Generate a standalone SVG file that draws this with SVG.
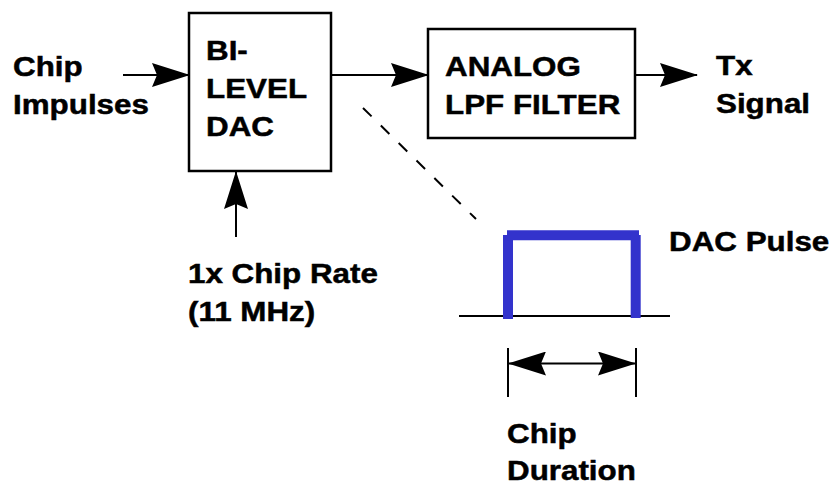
<svg xmlns="http://www.w3.org/2000/svg" width="835" height="485" viewBox="0 0 835 485">
  <style>
    .lbl { font-family: "Liberation Sans", Arial, sans-serif; font-weight: bold; font-size: 28px; fill: #000; stroke: #000; stroke-width: 0.5; }
    .box { fill: #fff; stroke: #000; stroke-width: 2.5; }
    .conn { stroke: #000; stroke-width: 2; fill: none; }
    .pulse { stroke: #3333cc; stroke-width: 10; fill: none; stroke-linecap: butt; }
  </style>
  <defs>
    <marker id="arrow" markerUnits="userSpaceOnUse" viewBox="0 0 38 24" refX="37" refY="12" markerWidth="38" markerHeight="24" orient="auto-start-reverse">
      <path d="M0,0 L38,12 L0,24 L5,12 z" fill="#000"/>
    </marker>
  </defs>

  <rect width="835" height="485" fill="#fff"/>

  <g id="label-chip-impulses">
    <text class="lbl" transform="translate(13,75.5) scale(1.12,1)">Chip</text>
    <text class="lbl" transform="translate(13,113.5) scale(1.12,1)">Impulses</text>
  </g>

  <g id="node-dac">
    <rect class="box" x="189" y="13" width="142" height="158"/>
    <text class="lbl" transform="translate(206,60) scale(1.12,1)">BI-</text>
    <text class="lbl" transform="translate(206,98) scale(1.12,1)">LEVEL</text>
    <text class="lbl" transform="translate(206,136) scale(1.12,1)">DAC</text>
  </g>

  <g id="node-filter">
    <rect class="box" x="428" y="29" width="207" height="109"/>
    <text class="lbl" transform="translate(445,75.5) scale(1.12,1)">ANALOG</text>
    <text class="lbl" transform="translate(445,114) scale(1.12,1)">LPF FILTER</text>
  </g>

  <g id="label-tx">
    <text class="lbl" transform="translate(716,75) scale(1.12,1)">Tx</text>
    <text class="lbl" transform="translate(716,113) scale(1.12,1)">Signal</text>
  </g>

  <g id="label-rate">
    <text class="lbl" transform="translate(188,283) scale(1.12,1)">1x Chip Rate</text>
    <text class="lbl" transform="translate(188,321) scale(1.12,1)">(11 MHz)</text>
  </g>

  <g id="connectors">
    <line class="conn" x1="123" y1="75" x2="189" y2="75" marker-end="url(#arrow)"/>
    <line class="conn" x1="331" y1="75" x2="428" y2="75" marker-end="url(#arrow)"/>
    <line class="conn" x1="636" y1="75" x2="697" y2="75" marker-end="url(#arrow)"/>
    <line class="conn" x1="236" y1="237" x2="236" y2="172" marker-end="url(#arrow)"/>
    <line class="conn" x1="363" y1="108" x2="476" y2="219" stroke-dasharray="12 13"/>
  </g>

  <g id="pulse">
    <line class="conn" x1="459" y1="316" x2="670" y2="316"/>
    <line class="pulse" x1="508" y1="235" x2="508" y2="319"/>
    <line class="pulse" x1="507" y1="235.3" x2="639" y2="235.3"/>
    <line class="pulse" x1="635.7" y1="235" x2="635.7" y2="318"/>
    <text class="lbl" transform="translate(669,251) scale(1.12,1)">DAC Pulse</text>
  </g>

  <g id="duration">
    <line class="conn" x1="508" y1="348" x2="508" y2="397"/>
    <line class="conn" x1="636" y1="348" x2="636" y2="397"/>
    <line class="conn" x1="509" y1="363.5" x2="635" y2="363.5" marker-start="url(#arrow)" marker-end="url(#arrow)"/>
    <text class="lbl" transform="translate(507,443) scale(1.12,1)">Chip</text>
    <text class="lbl" transform="translate(507,479.5) scale(1.12,1)">Duration</text>
  </g>
</svg>
